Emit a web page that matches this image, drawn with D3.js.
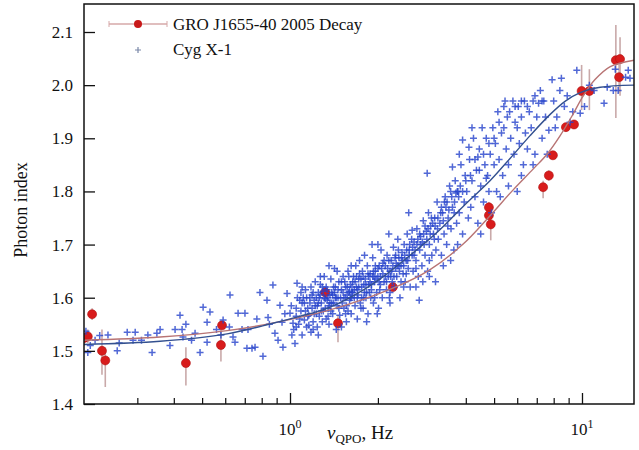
<!DOCTYPE html>
<html>
<head>
<meta charset="utf-8">
<script src="https://cdn.jsdelivr.net/npm/d3@7"></script>
<style>
  body { margin: 0; background: #fff; }
  svg text { font-family: "Liberation Serif", "Times New Roman", Tinos, "DejaVu Serif", serif !important; fill: #111; }
</style>
</head>
<body>
<div id="chart"></div>
<script>
// axis ranges and ticks
const xDomain = [0.197, 15.07];
const yDomain = [1.4, 2.1527];
const yTicks = [1.4, 1.5, 1.6, 1.7, 1.8, 1.9, 2.0, 2.1];
const xMajor = [1, 10];
const xMinor = [0.3, 0.4, 0.5, 0.6, 0.7, 0.8, 0.9, 2, 3, 4, 5, 6, 7, 8, 9];
const xLabels = [{ v: 1, base: '10', exp: '0' }, { v: 10, base: '10', exp: '1' }];
const seriesNames = ['GRO J1655-40 2005 Decay', 'Cyg X-1'];

// GRO J1655-40: [freq Hz, index, err low, err high]
const gro = [
  [0.197, 1.524, 1.51, 1.54], [0.203, 1.527, 1.515, 1.54], [0.21, 1.569, 1.558, 1.58],
  [0.227, 1.50, 1.455, 1.54], [0.233, 1.482, 1.432, 1.507], [0.44, 1.477, 1.435, 1.507],
  [0.585, 1.548, 1.54, 1.556], [0.58, 1.511, 1.48, 1.545], [1.32, 1.61, 1.6, 1.62],
  [1.46, 1.552, 1.516, 1.567], [2.25, 1.62, 1.612, 1.628], [4.8, 1.77, 1.76, 1.78],
  [4.8, 1.755, 1.745, 1.765], [4.87, 1.738, 1.708, 1.75], [7.36, 1.808, 1.787, 1.82],
  [7.7, 1.83, 1.82, 1.84], [7.95, 1.868, 1.86, 1.876], [8.81, 1.921, 1.913, 1.929],
  [9.39, 1.926, 1.918, 1.934], [9.97, 1.989, 1.953, 2.038], [10.6, 1.989, 1.953, 2.03],
  [13.06, 2.047, 1.938, 2.113], [13.5, 2.049, 1.98, 2.09], [13.4, 2.015, 1.985, 2.04]
];

// Cyg X-1: [freq Hz, index]
const cyg = [
  [0.2,1.537],[0.203,1.497],[0.207,1.51],[0.215,1.52],[0.223,1.529],[0.238,1.53],[0.256,1.50],[0.277,1.535],
  [0.295,1.535],[0.31,1.52],[0.326,1.53],[0.337,1.497],[0.35,1.533],[0.359,1.54],[0.388,1.51],[0.404,1.54],
  [0.42,1.567],[0.427,1.54],[0.43,1.526],[0.473,1.533],[0.492,1.497],[0.504,1.582],[0.52,1.554],[0.532,1.573],
  [0.52,1.516],[0.56,1.54],[0.59,1.558],[0.623,1.605],[0.638,1.526],[0.648,1.516],[0.664,1.571],[0.685,1.54],
  [0.701,1.571],[0.718,1.54],[0.712,1.505],[0.741,1.505],[0.759,1.507],[0.789,1.61],[0.808,1.49],[0.834,1.595],
  [0.841,1.563],[0.874,1.624],[0.888,1.533],[0.91,1.52],[0.924,1.586],[0.939,1.554],[0.946,1.507],[0.977,1.608],
  [0.96,1.57],[0.85,1.55],[0.77,1.56],[0.62,1.545],[0.58,1.53],[0.46,1.52],[0.44,1.55],[0.26,1.515],[0.29,1.52],
  [1.0,1.571],[1.024,1.552],[1.04,1.514],[1.057,1.627],[1.08,1.595],[1.01,1.585],[1.03,1.54],[1.05,1.565],
  [1.07,1.55],[1.09,1.575],[1.1,1.53],[1.11,1.6],[1.12,1.558],[1.13,1.615],[1.14,1.545],[1.15,1.58],[1.16,1.567],
  [1.17,1.59],[1.18,1.535],[1.19,1.605],[1.2,1.555],[1.06,1.6],[1.13,1.575],[1.18,1.62],[1.015,1.53],[1.09,1.61],
  [1.16,1.548],
  [1.21,1.57],[1.22,1.585],[1.23,1.6],[1.24,1.545],[1.25,1.61],[1.26,1.565],[1.27,1.625],[1.28,1.59],[1.29,1.555],
  [1.3,1.575],[1.31,1.64],[1.32,1.598],[1.33,1.56],[1.34,1.615],[1.35,1.58],[1.36,1.55],[1.37,1.605],[1.38,1.635],
  [1.39,1.59],[1.4,1.57],[1.41,1.62],[1.42,1.655],[1.43,1.6],[1.44,1.54],[1.45,1.585],[1.22,1.63],[1.26,1.6],
  [1.3,1.612],[1.34,1.595],[1.38,1.575],[1.42,1.61],[1.25,1.53],[1.36,1.66],
  [1.46,1.6],[1.47,1.63],[1.48,1.567],[1.5,1.615],[1.51,1.59],[1.52,1.64],[1.53,1.58],[1.55,1.62],[1.56,1.555],
  [1.57,1.605],[1.58,1.65],[1.6,1.595],[1.61,1.625],[1.62,1.57],[1.63,1.61],[1.65,1.64],[1.66,1.6],[1.67,1.585],
  [1.68,1.66],[1.69,1.62],[1.7,1.56],[1.71,1.605],[1.72,1.635],[1.74,1.59],[1.5,1.545],[1.55,1.6],[1.6,1.612],
  [1.64,1.63],[1.7,1.615],[1.73,1.67],[1.58,1.575],[1.62,1.6],
  [1.76,1.62],[1.77,1.65],[1.78,1.58],[1.8,1.61],[1.81,1.635],[1.82,1.6],[1.84,1.66],[1.85,1.57],[1.86,1.625],
  [1.88,1.645],[1.89,1.6],[1.9,1.615],[1.92,1.675],[1.93,1.59],[1.95,1.63],[1.96,1.65],[1.98,1.61],[2.0,1.64],
  [2.01,1.58],[2.02,1.66],[2.04,1.625],[2.05,1.69],[2.07,1.6],[2.08,1.645],[2.1,1.63],[1.79,1.6],[1.87,1.61],
  [1.94,1.64],[2.03,1.615],[1.83,1.555],[1.91,1.7],[1.99,1.57],
  [2.12,1.66],[2.14,1.615],[2.15,1.68],[2.17,1.64],[2.19,1.6],[2.2,1.65],[2.22,1.67],[2.24,1.63],[2.26,1.695],
  [2.28,1.62],[2.3,1.655],[2.32,1.64],[2.34,1.71],[2.36,1.675],[2.38,1.6],[2.4,1.66],[2.42,1.685],[2.44,1.645],
  [2.46,1.7],[2.48,1.63],[2.5,1.67],[2.52,1.72],[2.54,1.655],[2.56,1.69],[2.58,1.62],[2.2,1.59],[2.3,1.68],
  [2.4,1.63],[2.5,1.645],[2.18,1.72],[2.35,1.69],
  [2.62,1.68],[2.64,1.65],[2.66,1.705],[2.7,1.67],[2.72,1.73],[2.75,1.64],[2.78,1.69],[2.8,1.715],[2.83,1.66],
  [2.86,1.745],[2.88,1.7],[2.9,1.68],[2.93,1.725],[2.96,1.65],[2.98,1.76],[3.0,1.7],[3.03,1.735],[3.06,1.68],
  [3.1,1.72],[3.13,1.75],[3.16,1.69],[3.19,1.78],[2.7,1.62],[2.85,1.63],[3.0,1.64],[2.95,1.834],[2.62,1.727],
  [2.55,1.76],[3.15,1.63],[2.77,1.595],
  [3.22,1.71],[3.26,1.74],[3.3,1.68],[3.33,1.76],[3.37,1.72],[3.4,1.79],[3.44,1.7],[3.48,1.75],[3.52,1.81],
  [3.56,1.73],[3.6,1.77],[3.64,1.69],[3.68,1.82],[3.72,1.74],[3.76,1.8],[3.8,1.76],[3.85,1.85],[3.9,1.72],
  [3.95,1.78],[3.98,1.83],[3.35,1.66],[3.55,1.67],[3.75,1.7],[3.45,1.78],[3.6,1.846],[3.7,1.797],[3.8,1.87],
  [4.03,1.8],[4.08,1.75],[4.12,1.86],[4.16,1.77],[4.2,1.82],[4.25,1.9],[4.3,1.79],[4.35,1.84],[4.4,1.74],
  [4.45,1.88],[4.5,1.81],[4.55,1.92],[4.6,1.78],[4.65,1.85],[4.7,1.9],[4.75,1.83],[4.8,1.8],[4.85,1.87],
  [4.9,1.76],[4.95,1.92],[4.2,1.92],[4.5,1.72],[4.1,1.883],[3.9,1.897],[4.4,1.865],[4.7,1.825],[5.0,1.85],
  [5.05,1.89],[5.1,1.8],[5.15,1.95],[5.2,1.86],[5.3,1.91],[5.35,1.83],[5.4,1.96],[5.5,1.88],[5.55,1.94],
  [5.6,1.85],[5.7,1.9],[5.8,1.97],[5.85,1.87],[5.9,1.93],[6.0,1.8],[6.05,1.96],[6.1,1.89],[6.2,1.94],
  [6.3,1.85],[6.35,1.97],[6.4,1.91],[6.5,1.88],[5.25,1.79],[5.6,1.81],[6.2,1.83],[5.45,1.97],[6.0,1.92],
  [6.6,1.95],[6.7,1.92],[6.8,1.97],[6.9,1.87],[7.0,1.94],[7.1,1.966],[7.3,1.9],[7.4,1.97],[7.5,1.94],
  [7.7,1.915],[7.9,2.01],[8.0,1.97],[8.2,1.94],[8.4,1.99],[8.5,2.013],[8.7,1.96],[8.9,1.98],[9.1,1.93],
  [9.3,1.95],[9.6,2.028],[9.86,1.947],[6.8,1.85],[7.2,1.99],[7.6,1.87],[8.1,1.92],
  [10.2,1.96],[11.0,1.99],[11.9,1.966],[12.2,1.996],[12.8,1.99],[13.3,1.99],[14.1,2.015],[14.4,2.028],
  [14.6,2.013],[10.6,2.0],[13.0,2.03],
  [1.12,1.59],[1.17,1.6],[1.21,1.595],[1.24,1.585],[1.27,1.605],[1.29,1.62],[1.32,1.58],[1.35,1.6],
  [1.37,1.59],[1.4,1.605],[1.43,1.62],[1.46,1.615],[1.49,1.6],[1.52,1.61],[1.54,1.63],[1.57,1.62],
  [1.59,1.64],[1.63,1.62],[1.66,1.615],[1.69,1.64],[1.72,1.62],[1.75,1.635],[1.78,1.64],[1.82,1.625],
  [1.85,1.645],[1.88,1.63],[1.92,1.64],[1.96,1.66],[2.0,1.655],[2.04,1.64],[2.08,1.665],[2.12,1.64],
  [2.16,1.655],[2.21,1.64],[2.25,1.66],[2.29,1.675],[2.33,1.66],[2.37,1.65],[2.43,1.67],[2.47,1.68],
  [2.53,1.67],[2.57,1.7],[2.63,1.695],[2.68,1.69],[2.74,1.71],[2.8,1.7],[2.87,1.72],[2.94,1.71],
  [3.02,1.72],[3.08,1.74],[3.14,1.735],[3.21,1.75],[3.28,1.76],[3.35,1.745],[3.42,1.77],[3.5,1.765],
  [3.58,1.79],[3.66,1.78],[3.74,1.8],[3.83,1.81],
  [1.05,1.58],[1.08,1.56],[1.1,1.59],[1.14,1.6],[1.15,1.565],[1.19,1.58],[1.2,1.61],[1.23,1.57],
  [1.25,1.59],[1.28,1.575],[1.31,1.6],[1.33,1.62],[1.36,1.585],[1.39,1.61],[1.41,1.59],[1.44,1.6],
  [1.47,1.58],[1.5,1.63],[1.53,1.6],[1.56,1.585],[1.59,1.61],[1.61,1.6],[1.64,1.61],[1.67,1.63],
  [1.7,1.6],[1.73,1.645],[1.76,1.6],[1.79,1.625],[1.83,1.61],[1.86,1.64],[1.9,1.625],[1.93,1.65],
  [1.97,1.635],[2.02,1.63],[2.06,1.655],[2.1,1.67],[2.14,1.63],[2.18,1.67],[2.23,1.65],[2.27,1.64],
  [2.31,1.665],[2.36,1.66],[2.41,1.675],[2.45,1.66],[2.51,1.69],[2.56,1.68],[2.61,1.71],[2.66,1.68],
  [2.72,1.7],[2.78,1.72],[2.84,1.705],[2.9,1.735],[2.97,1.73],[3.05,1.75],[3.12,1.71],[3.2,1.73],
  [3.3,1.77],[3.38,1.78],[3.47,1.735],[3.55,1.8],[3.65,1.76],[3.78,1.79],[3.9,1.8],[4.0,1.82],
  [4.15,1.83],[4.3,1.86],[4.45,1.84],[4.6,1.87],[4.8,1.89],[5.0,1.9],[5.2,1.93],[5.4,1.92],
  [5.65,1.95],[5.9,1.96],[6.2,1.97],[6.5,1.96],[6.9,1.98],[7.3,1.97],[1.1,1.62],[1.27,1.64],
  [1.45,1.65],[1.62,1.66],[1.8,1.68],[2.0,1.7],[1.05,1.545],[1.2,1.54],[1.35,1.565],[1.55,1.57],
  [1.75,1.58],[1.95,1.6],[2.2,1.61],[2.45,1.62],[2.7,1.655],[3.0,1.67]
];

// fitted curves
const cygFit = [
  [0.197,1.512],[0.359,1.518],[0.609,1.532],[0.874,1.552],[1.08,1.565],[1.34,1.58],[1.605,1.60],
  [2.03,1.635],[2.58,1.68],[3.26,1.728],[3.97,1.775],[4.84,1.82],[5.67,1.862],[6.64,1.905],
  [7.78,1.945],[8.77,1.97],[9.86,1.986],[11.55,1.996],[15.07,2.0]
];
const groFit = [
  [0.197,1.52],[0.359,1.526],[0.609,1.538],[0.924,1.555],[1.371,1.577],[2.25,1.618],[3.0,1.652],
  [3.9,1.70],[4.8,1.752],[5.79,1.802],[6.8,1.842],[7.59,1.87],[8.42,1.905],[9.31,1.945],
  [10.05,1.978],[11.06,2.01],[12.5,2.035],[15.07,2.047]
];

const width = 639, height = 450;
const margin = { top: 4, right: 5, bottom: 46, left: 84 };
const plotW = width - margin.left - margin.right;
const plotH = height - margin.top - margin.bottom;
const serif = '"Liberation Serif", "Times New Roman", Tinos, "DejaVu Serif", serif';

const svg = d3.select('#chart').append('svg')
  .attr('width', width)
  .attr('height', height)
  .attr('font-family', serif);

const x = d3.scaleLog().domain(xDomain).range([margin.left, margin.left + plotW]);
const y = d3.scaleLinear().domain(yDomain).range([margin.top + plotH, margin.top]);

svg.append('clipPath').attr('id', 'clip')
  .append('rect')
  .attr('x', margin.left).attr('y', margin.top)
  .attr('width', plotW).attr('height', plotH);

const plot = svg.append('g').attr('clip-path', 'url(#clip)');

// GRO error bars + dots
plot.selectAll('.err')
  .data(gro)
  .join('line')
  .attr('class', 'err')
  .attr('x1', d => x(d[0])).attr('x2', d => x(d[0]))
  .attr('y1', d => y(d[2])).attr('y2', d => y(d[3]))
  .attr('stroke', '#c9a9a9')
  .attr('stroke-width', 1.6);

plot.selectAll('.dot')
  .data(gro)
  .join('circle')
  .attr('class', 'dot')
  .attr('cx', d => x(d[0]))
  .attr('cy', d => y(d[1]))
  .attr('r', 4.5)
  .attr('fill', '#d81c1c')
  .attr('stroke', '#b01010')
  .attr('stroke-width', 0.6);

// Cyg X-1 crosses
const cs = 3.5;
plot.selectAll('.cross')
  .data(cyg)
  .join('path')
  .attr('class', 'cross')
  .attr('d', d => {
    const px = x(d[0]), py = y(d[1]);
    return `M${px - cs},${py}H${px + cs}M${px},${py - cs}V${py + cs}`;
  })
  .attr('stroke', '#2643cc')
  .attr('stroke-width', 1.5)
  .attr('opacity', 0.8);

// fit lines
const line = d3.line()
  .x(d => x(d[0]))
  .y(d => y(d[1]))
  .curve(d3.curveCatmullRom.alpha(0.5));

plot.append('path')
  .datum(groFit)
  .attr('d', line)
  .attr('fill', 'none')
  .attr('stroke', '#b87474')
  .attr('stroke-width', 1.4);

plot.append('path')
  .datum(cygFit)
  .attr('d', line)
  .attr('fill', 'none')
  .attr('stroke', '#33508f')
  .attr('stroke-width', 1.4);

// axes
const yAxis = svg.append('g')
  .attr('transform', `translate(${margin.left},0)`)
  .call(d3.axisLeft(y).tickValues(yTicks).tickFormat(d3.format('.1f')).tickSize(-11).tickPadding(11));
yAxis.attr('font-family', serif).attr('font-size', 17);
yAxis.select('.domain').remove();
yAxis.selectAll('line').attr('stroke', '#111').attr('stroke-width', 1.3);
yAxis.selectAll('text').attr('fill', '#111');

const xMaj = svg.append('g')
  .attr('transform', `translate(0,${margin.top + plotH})`)
  .call(d3.axisBottom(x).tickValues(xMajor).tickFormat('').tickSize(-11));
xMaj.select('.domain').remove();
xMaj.selectAll('line').attr('stroke', '#111').attr('stroke-width', 1.3);

const xMin = svg.append('g')
  .attr('transform', `translate(0,${margin.top + plotH})`)
  .call(d3.axisBottom(x).tickValues(xMinor).tickFormat('').tickSize(-6));
xMin.select('.domain').remove();
xMin.selectAll('line').attr('stroke', '#111').attr('stroke-width', 1.2);

// frame
svg.append('rect')
  .attr('x', margin.left).attr('y', margin.top)
  .attr('width', plotW).attr('height', plotH)
  .attr('fill', 'none')
  .attr('stroke', '#111')
  .attr('stroke-width', 1.5);

// x tick labels 10^n
const xl = svg.selectAll('.xlab')
  .data(xLabels)
  .join('text')
  .attr('class', 'xlab')
  .attr('x', d => x(d.v))
  .attr('y', 435)
  .attr('text-anchor', 'middle')
  .attr('font-size', 17);
xl.append('tspan').text(d => d.base);
xl.append('tspan').attr('dy', -7).attr('font-size', 12).text(d => d.exp);

// axis titles
const xt = svg.append('text')
  .attr('x', 327)
  .attr('y', 439)
  .attr('font-size', 19);
xt.append('tspan').attr('font-style', 'italic').text('\u03bd');
xt.append('tspan').attr('dy', 4).attr('font-size', 13).text('QPO');
xt.append('tspan').attr('dy', -4).text(', Hz');

svg.append('text')
  .attr('transform', 'translate(27,210) rotate(-90)')
  .attr('text-anchor', 'middle')
  .attr('font-size', 18)
  .text('Photon index');

// legend
const lg = svg.append('g');
lg.append('line')
  .attr('x1', 109).attr('x2', 167).attr('y1', 24).attr('y2', 24)
  .attr('stroke', '#d6a8a8').attr('stroke-width', 1.4);
[109, 167].forEach(cx => lg.append('line')
  .attr('x1', cx).attr('x2', cx).attr('y1', 21).attr('y2', 27)
  .attr('stroke', '#d6a8a8').attr('stroke-width', 1));
lg.append('circle').attr('cx', 138).attr('cy', 24).attr('r', 4)
  .attr('fill', '#c81818');
lg.append('path')
  .attr('d', 'M135,50H141M138,47V53')
  .attr('stroke', '#7a88a8').attr('stroke-width', 1.2);
lg.selectAll('.lt')
  .data(seriesNames)
  .join('text')
  .attr('class', 'lt')
  .attr('x', 173)
  .attr('y', (d, i) => 30 + i * 25)
  .attr('font-size', 17)
  .text(d => d);
</script>
</body>
</html>
